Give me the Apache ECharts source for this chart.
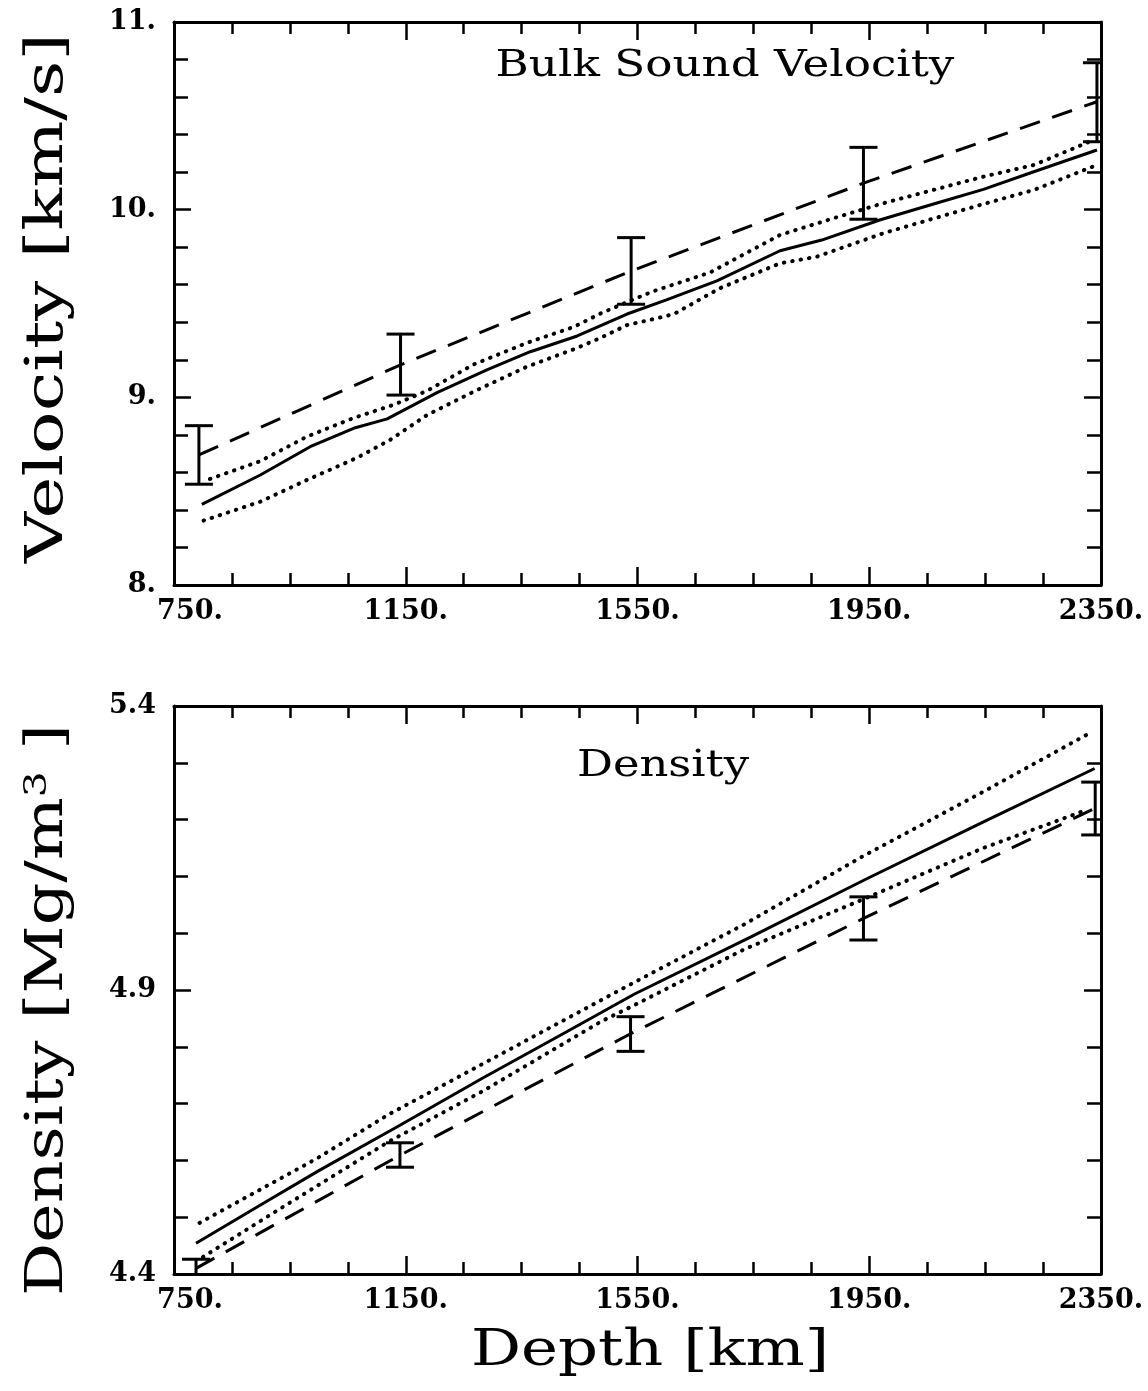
<!DOCTYPE html>
<html><head><meta charset="utf-8">
<script src="https://cdn.jsdelivr.net/npm/echarts@6/dist/echarts.min.js"></script>
<style>html,body{margin:0;padding:0;background:#fff}#c{width:1148px;height:1391px}</style>
</head><body><div id="c"></div>
<script>
// ---------- tick labels ----------
const xTickValues = [750, 1150, 1550, 1950, 2350];
const xTickLabels = ['750.', '1150.', '1550.', '1950.', '2350.'];
const velTickValues = [8, 9, 10, 11];
const velTickLabels = ['8.', '9.', '10.', '11.'];
const denTickValues = [4.4, 4.9, 5.4];
const denTickLabels = ['4.4', '4.9', '5.4'];

// ---------- Bulk sound velocity panel ----------
const velSolidDepth = [798, 899, 985, 1063, 1118, 1204, 1290, 1365, 1446, 1532, 1600, 1687, 1796, 1868, 1968, 2061, 2147, 2234, 2343];
const velSolid      = [8.430, 8.586, 8.737, 8.838, 8.885, 9.025, 9.146, 9.243, 9.327, 9.444, 9.519, 9.621, 9.781, 9.838, 9.945, 10.030, 10.108, 10.202, 10.318];
const velUpperDepth = [812, 899, 979, 1060, 1129, 1187, 1267, 1359, 1440, 1485, 1530, 1577, 1675, 1796, 1888, 1974, 2147, 2234, 2337];
const velUpper      = [8.565, 8.660, 8.790, 8.890, 8.960, 9.035, 9.175, 9.290, 9.375, 9.445, 9.505, 9.565, 9.665, 9.865, 9.954, 10.034, 10.176, 10.238, 10.371];
const velLowerDepth = [801, 899, 979, 1066, 1123, 1187, 1267, 1359, 1440, 1485, 1532, 1583, 1613, 1692, 1796, 1859, 1974, 2147, 2234, 2343];
const velLower      = [8.343, 8.444, 8.559, 8.678, 8.773, 8.906, 9.030, 9.163, 9.256, 9.315, 9.385, 9.421, 9.444, 9.581, 9.714, 9.749, 9.874, 10.030, 10.105, 10.238];
const velRefDepth   = [793, 1141, 1539, 1940, 2343];
const velRef        = [8.693, 9.173, 9.673, 10.141, 10.575];
const velErrLow     = [8.537, 9.012, 9.496, 9.949, 10.362];
const velErrHigh    = [8.849, 9.337, 9.851, 10.332, 10.783];

// ---------- Density panel ----------
const denSolidDepth = [788, 900, 1000, 1140, 1283, 1427, 1545, 1745, 1944, 2149, 2339];
const denSolid      = [4.454, 4.522, 4.582, 4.662, 4.745, 4.826, 4.893, 4.993, 5.095, 5.197, 5.290];
const denUpperDepth = [794, 996, 1119, 1283, 1538, 1735, 1940, 2145, 2330];
const denUpper      = [4.490, 4.603, 4.680, 4.770, 4.910, 5.016, 5.136, 5.248, 5.352];
const denLowerDepth = [800, 938, 1119, 1283, 1488, 1538, 1735, 1940, 2147, 2325];
const denLower      = [4.430, 4.518, 4.632, 4.722, 4.845, 4.870, 4.972, 5.060, 5.150, 5.217];
const denRefDepth   = [788, 1140, 1538, 1940, 2340];
const denRef        = [4.410, 4.609, 4.823, 5.026, 5.220];
const denErrLow     = [4.385, 4.588, 4.792, 4.988, 5.173];
const denErrHigh    = [4.426, 4.631, 4.853, 5.064, 5.266];

// ---------- build ----------
const pts = (xs, ys) => xs.map((x, i) => [x, ys[i]]);
const errs = (xs, lo, hi) => xs.map((x, i) => [x, lo[i], hi[i]]);
const labelFor = (vals, labs) => v => {
  const i = vals.findIndex(t => Math.abs(t - v) < 1e-6);
  return i < 0 ? '' : labs[i];
};
const xLab = labelFor(xTickValues, xTickLabels);
const FONT = '"DejaVu Serif", serif';

function xAxis(grid, pos, show) {
  return {
    type: 'value', gridIndex: grid, position: pos, min: 750, max: 2350, interval: 400,
    axisLine: {show: true, onZero: false, lineStyle: {color: '#000', width: 3}},
    axisTick: {show: true, inside: true, length: 18, lineStyle: {color: '#000', width: 2.5}},
    minorTick: {show: true, splitNumber: 4, length: 12, lineStyle: {color: '#000', width: 2.5}},
    splitLine: {show: false}, minorSplitLine: {show: false},
    axisLabel: {
      show: show, margin: 13, color: '#000', fontFamily: FONT, fontSize: 27, fontWeight: 'bold',
      formatter: v => {
        const s = xLab(v);
        return v === xTickValues[0] ? '{first|' + s + '}' : s;
      },
      rich: {first: {padding: [0, 0, 0, 32], fontFamily: FONT, fontSize: 27, fontWeight: 'bold', color: '#000'}}
    }
  };
}
function yAxis(grid, pos, show, min, max, interval, split, vals, labs) {
  const f = labelFor(vals, labs);
  return {
    type: 'value', gridIndex: grid, position: pos, min: min, max: max, interval: interval,
    axisLine: {show: true, onZero: false, lineStyle: {color: '#000', width: 3}},
    axisTick: {show: true, inside: true, length: 17, lineStyle: {color: '#000', width: 2.5}},
    minorTick: {show: true, splitNumber: split, length: 14, lineStyle: {color: '#000', width: 2.5}},
    splitLine: {show: false}, minorSplitLine: {show: false},
    axisLabel: {show: show, margin: 18, color: '#000', fontFamily: FONT, fontSize: 27, fontWeight: 'bold',
      padding: [8, 0, 0, 0], formatter: v => f(v)}
  };
}

function errSeries(xi, yi, data) {
  return {
    type: 'custom', xAxisIndex: xi, yAxisIndex: yi, clip: true, silent: true,
    encode: {x: 0, y: [1, 2]}, data: data,
    renderItem: (params, api) => {
      const x = api.value(0);
      const a = api.coord([x, api.value(1)]);
      const b = api.coord([x, api.value(2)]);
      const hw = 14;
      const st = {stroke: '#000', lineWidth: 3};
      return {type: 'group', children: [
        {type: 'line', shape: {x1: a[0], y1: a[1], x2: b[0], y2: b[1]}, style: st},
        {type: 'line', shape: {x1: a[0] - hw, y1: a[1], x2: a[0] + hw, y2: a[1]}, style: st},
        {type: 'line', shape: {x1: b[0] - hw, y1: b[1], x2: b[0] + hw, y2: b[1]}, style: st}
      ]};
    }
  };
}
function line(xi, yi, data, kind) {
  const ls = {color: '#000', width: 3};
  if (kind === 'dot') { ls.type = [0.5, 8]; ls.cap = 'round'; ls.width = 4; }
  if (kind === 'dash') { ls.type = [21, 13]; ls.cap = 'butt'; }
  return {type: 'line', xAxisIndex: xi, yAxisIndex: yi, data: data, showSymbol: false, symbol: 'none',
    smooth: false, lineStyle: ls, silent: true, z: 3};
}

const option = {
  animation: false,
  backgroundColor: '#fff',
  grid: [
    {left: 174, top: 22, width: 927, height: 563},
    {left: 174, top: 706, width: 927, height: 568}
  ],
  xAxis: [xAxis(0, 'bottom', true), xAxis(0, 'top', false), xAxis(1, 'bottom', true), xAxis(1, 'top', false)],
  yAxis: [
    yAxis(0, 'left', true, 8, 11, 1, 5, velTickValues, velTickLabels),
    yAxis(0, 'right', false, 8, 11, 1, 5, velTickValues, velTickLabels),
    yAxis(1, 'left', true, 4.4, 5.4, 0.5, 5, denTickValues, denTickLabels),
    yAxis(1, 'right', false, 4.4, 5.4, 0.5, 5, denTickValues, denTickLabels)
  ],
  series: [
    line(0, 0, pts(velSolidDepth, velSolid), 'solid'),
    line(0, 0, pts(velUpperDepth, velUpper), 'dot'),
    line(0, 0, pts(velLowerDepth, velLower), 'dot'),
    line(0, 0, pts(velRefDepth, velRef), 'dash'),
    errSeries(0, 0, errs(velRefDepth, velErrLow, velErrHigh)),
    line(2, 2, pts(denSolidDepth, denSolid), 'solid'),
    line(2, 2, pts(denUpperDepth, denUpper), 'dot'),
    line(2, 2, pts(denLowerDepth, denLower), 'dot'),
    line(2, 2, pts(denRefDepth, denRef), 'dash'),
    errSeries(2, 2, errs(denRefDepth, denErrLow, denErrHigh))
  ],
  graphic: [
    {type: 'text', x: 725, y: 66, scaleX: 1.19, silent: true,
      style: {text: 'Bulk Sound Velocity', fontFamily: FONT, fontSize: 38, fill: '#000', align: 'center', verticalAlign: 'middle'}},
    {type: 'text', x: 663, y: 766, scaleX: 1.18, silent: true,
      style: {text: 'Density', fontFamily: FONT, fontSize: 38, fill: '#000', align: 'center', verticalAlign: 'middle'}},
    {type: 'text', x: 650, y: 1352, scaleX: 1.25, silent: true,
      style: {text: 'Depth [km]', fontFamily: FONT, fontSize: 50, fill: '#000', align: 'center', verticalAlign: 'middle'}},
    {type: 'text', x: 48, y: 298, rotation: Math.PI / 2, scaleX: 1.36, silent: true,
      style: {text: 'Velocity [km/s]', fontFamily: FONT, fontSize: 52, fill: '#000', align: 'center', verticalAlign: 'middle'}},
    {type: 'text', x: 48, y: 1010, rotation: Math.PI / 2, scaleX: 1.28, silent: true,
      style: {text: 'Density [Mg/m{sup|3} ]', fontFamily: FONT, fontSize: 52, fill: '#000', align: 'center', verticalAlign: 'middle',
        rich: {sup: {fontFamily: FONT, fontSize: 32, verticalAlign: 'top', fill: '#000', padding: [0, 0, 18, 0]}}}}
  ]
};
const chart = echarts.init(document.getElementById('c'), null, {renderer: 'canvas'});
chart.setOption(option);
</script></body></html>
